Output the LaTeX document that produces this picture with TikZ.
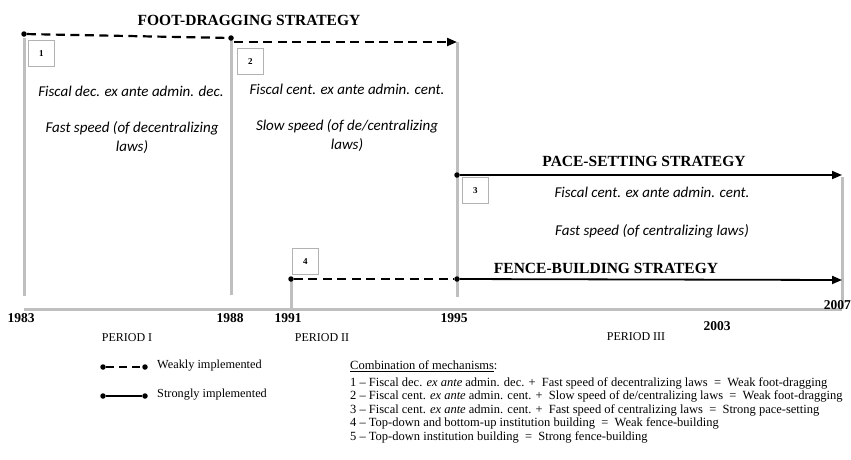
\documentclass[tikz,border=0pt]{standalone}
\usepackage{fontspec}
\setmainfont{Liberation Serif}
\newfontfamily\calib{Carlito}
\usetikzlibrary{arrows.meta}

\tikzset{
  period/.style={line width=3pt, black!25},
  dot/.style={circle, fill=black, inner sep=0pt, minimum size=5.5pt},
  weak/.style={line width=2.2pt, dash pattern=on 9pt off 5.5pt},
  strong/.style={line width=1.8pt},
  tip/.style={-{Triangle[length=10pt,width=8pt]}},
  numbox/.style={draw=black!30, line width=0.8pt, minimum width=26pt, minimum height=26pt, inner sep=0pt, font=\fontsize{9}{10}\selectfont\bfseries},
  strat/.style={font=\fontsize{15.5}{18}\selectfont\bfseries},
  mech/.style={font=\calib\itshape\fontsize{15}{19}\selectfont, align=center},
  year/.style={font=\fontsize{13.5}{16}\selectfont\bfseries},
  per/.style={font=\fontsize{12}{14}\selectfont},
  legtext/.style={font=\fontsize{12.3}{14}\selectfont, anchor=west, inner sep=0pt},
  listtext/.style={font=\fontsize{12.5}{14}\selectfont, anchor=west, inner sep=0pt},
}

\begin{document}
\begin{tikzpicture}[x=1pt,y=-1pt]
  \useasboundingbox (0,0) rectangle (851,459);
  % time axis and period borders
  \draw[period] (24,309) -- (842,309);
  \draw[period] (24,38) -- (24,296);
  \draw[period] (231,40) -- (231,295);
  \draw[period] (457,42) -- (457,297);
  \draw[period] (291,279) -- (291,309);
  \draw[period] (842,177) -- (842,309);

  % foot-dragging
  \node[strat] (fdtitle) at (249,20) {FOOT-DRAGGING STRATEGY};
  \node[dot] (fdA) at (24,34) {};
  \node[dot] (fdB) at (231,38) {};
  \coordinate (fdC) at (234,42);
  \coordinate (fdE) at (457,42);
  \draw[weak] (fdA) -- (fdB);
  \draw[weak,tip] (fdC) -- (fdE);
  \node[numbox, anchor=north west] (boxA) at (28,40) {1};
  \node[numbox, anchor=north west] (boxB) at (237,48) {2};
  \node[mech] (mechA) at (131,91) {Fiscal dec. ex ante admin. dec.};
  \node[mech] (speedA) at (132,138) {Fast speed (of decentralizing\\laws)};
  \node[mech] (mechB) at (347,89) {Fiscal cent. ex ante admin. cent.};
  \node[mech] (speedB) at (347,136) {Slow speed (of de/centralizing\\laws)};

  % pace-setting
  \node[strat] (pstitle) at (644,161) {PACE-SETTING STRATEGY};
  \node[dot] (psA) at (457,175) {};
  \coordinate (psE) at (842,175);
  \draw[strong,tip] (psA) -- (psE);
  \node[numbox, anchor=north west] (boxC) at (462,177) {3};
  \node[mech] (mechC) at (652,192) {Fiscal cent. ex ante admin. cent.};
  \node[mech] (speedC) at (652,231) {Fast speed (of centralizing laws)};

  % fence-building
  \node[strat] (fbtitle) at (606,268) {FENCE-BUILDING STRATEGY};
  \node[dot] (fbA) at (291,279) {};
  \node[dot] (fbB) at (457,279) {};
  \coordinate (fbE) at (842,280);
  \draw[weak] (fbA) -- (fbB);
  \draw[strong,tip] (fbB) -- (fbE);
  \node[numbox, anchor=north west] (boxD) at (292,248) {4};

  % years and periods
  \node[year] (yA) at (21,318) {1983};
  \node[year] (yB) at (230,318) {1988};
  \node[year] (yC) at (288,318) {1991};
  \node[year] (yD) at (454,318) {1995};
  \node[year] (yE) at (717,326) {2003};
  \node[year, anchor=east, inner sep=0pt] (yF) at (851,305) {2007};
  \node[per] (perA) at (127,338) {PERIOD I};
  \node[per] (perB) at (322,338) {PERIOD II};
  \node[per] (perC) at (636,337) {PERIOD III};

  % legend
  \node[dot] (lwA) at (103,367) {};
  \node[dot] (lwB) at (145,367) {};
  \draw[weak, dash pattern=on 8pt off 5pt] (lwA) -- (lwB);
  \node[legtext] (lwT) at (157,366) {Weakly implemented};
  \node[dot] (lsA) at (103,396) {};
  \node[dot] (lsB) at (145,396) {};
  \draw[strong] (lsA) -- (lsB);
  \node[legtext] (lsT) at (157,395) {Strongly implemented};

  % combination of mechanisms
  \node[listtext] (combo) at (350,366) {\underline{Combination of mechanisms}:};
  \node[listtext] (cA) at (350,383) {1 -- Fiscal dec. \textit{ex ante} admin. dec. +\ \ Fast speed of decentralizing laws\ \ =\ \ Weak foot-dragging};
  \node[listtext] (cB) at (350,396.5) {2 -- Fiscal cent. \textit{ex ante} admin. cent. +\ \ Slow speed of de/centralizing laws\ \ =\ \ Weak foot-dragging};
  \node[listtext] (cC) at (350,410) {3 -- Fiscal cent. \textit{ex ante} admin. cent. +\ \ Fast speed of centralizing laws\ \ =\ \ Strong pace-setting};
  \node[listtext] (cD) at (350,423.5) {4 -- Top-down and bottom-up institution building\ \ =\ \ Weak fence-building};
  \node[listtext] (cE) at (350,437) {5 -- Top-down institution building\ \ =\ \ Strong fence-building};
\end{tikzpicture}
\end{document}
